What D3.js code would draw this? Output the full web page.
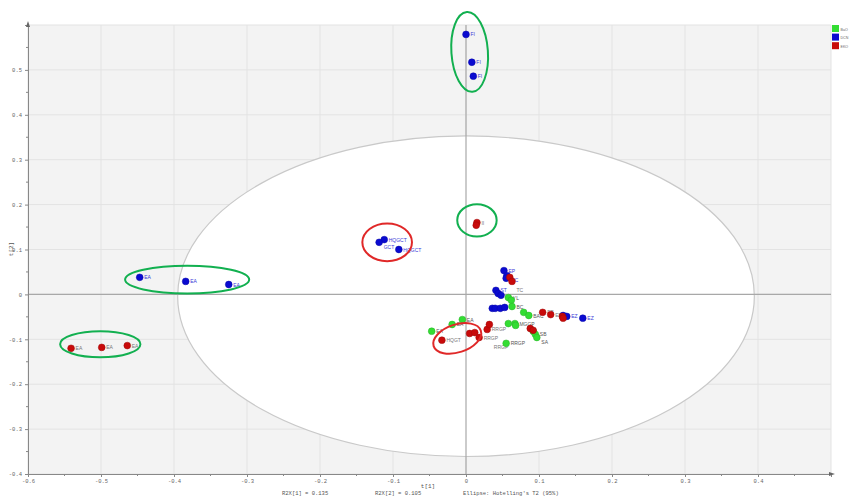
<!DOCTYPE html>
<html>
<head>
<meta charset="utf-8">
<script src="https://cdn.jsdelivr.net/npm/d3@7"></script>
<style>
  html, body { margin: 0; padding: 0; background: #ffffff; }
  svg { display: block; }
</style>
</head>
<body>
<svg id="chart" width="849" height="497"></svg>
<script>
// Score plot t[1] vs t[2]: three sample groups
const groups = ["BaO", "DCN", "EKO"];
const groupColors = ["#33dd33", "#0a0ad0", "#c80a0a"];

// Group DCN (blue)
const dcnT1 = [0.000, 0.008, 0.010, -0.112, -0.119, -0.092, -0.447, -0.384, -0.325,
  0.052, 0.056, 0.055, 0.041, 0.044, 0.048, 0.036, 0.040, 0.047, 0.053, 0.133, 0.138, 0.160];
const dcnT2 = [0.579, 0.517, 0.486, 0.122, 0.116, 0.100, 0.038, 0.029, 0.022,
  0.053, 0.042, 0.036, 0.009, 0.002, -0.002, -0.031, -0.031, -0.031, -0.029, -0.047, -0.049, -0.053];
const dcnLabels = ["FI", "FI", "FI", "HQGCT", "GCT", "HQGCT", "EA", "EA", "EA",
  "EP", "EC", "", "ST", "", "", "", "", "", "", "", "EZ", "EZ"];

// Group EKO (red)
const ekoT1 = [-0.541, -0.499, -0.464, 0.015, 0.014, -0.033, 0.005, 0.012, 0.018, 0.029, 0.032,
  0.060, 0.063, 0.088, 0.092, 0.105, 0.116, 0.132, 0.133];
const ekoT2 = [-0.120, -0.118, -0.114, 0.160, 0.154, -0.102, -0.087, -0.085, -0.096, -0.078, -0.067,
  0.038, 0.029, -0.076, -0.080, -0.040, -0.045, -0.049, -0.053];
const ekoLabels = ["EA", "EA", "EA", "II", "", "HQGT", "", "", "RRGP", "RRGP", "RRGP",
  "", "TC", "", "", "EB", "EB", "", ""];

// Group BaO (green)
const baoT1 = [-0.047, -0.019, -0.005, 0.058, 0.062, 0.063, 0.079, 0.086, 0.058, 0.067, 0.068,
  0.092, 0.095, 0.097, 0.055];
const baoT2 = [-0.082, -0.067, -0.056, -0.007, -0.013, -0.027, -0.040, -0.047, -0.065, -0.065, -0.069,
  -0.082, -0.089, -0.096, -0.109];
const baoLabels = ["EA", "EA", "EA", "YL", "", "BC", "", "BAC", "", "MGGP", "", "", "SB", "SA", "RRGP"];

// Axis ticks
const xTicks = [-0.6, -0.5, -0.4, -0.3, -0.2, -0.1, 0, 0.1, 0.2, 0.3, 0.4];
const yTicks = [-0.4, -0.3, -0.2, -0.1, 0, 0.1, 0.2, 0.3, 0.4, 0.5];
const xTickLabels = ["-0.6", "-0.5", "-0.4", "-0.3", "-0.2", "-0.1", "0", "0.1", "0.2", "0.3", "0.4"];
const yTickLabels = ["-0.4", "-0.3", "-0.2", "-0.1", "0", "0.1", "0.2", "0.3", "0.4", "0.5"];

// Hotelling's T2 (95%) ellipse: centre and semi-axes
const hotellingCentre = [0, -0.004];
const hotellingRadii = [0.395, 0.357];

// Highlight rings: centre t1, centre t2, radius t1, radius t2, rotation
const ringCx = [0.005, 0.015, -0.108, -0.382, -0.501, -0.012];
const ringCy = [0.540, 0.165, 0.116, 0.033, -0.111, -0.098];
const ringRx = [0.025, 0.027, 0.034, 0.085, 0.055, 0.034];
const ringRy = [0.089, 0.036, 0.042, 0.031, 0.029, 0.031];
const ringRot = [-4, 0, 0, 0, 0, -18];
const ringKind = ["green", "green", "red", "green", "green", "red"];

const footerTexts = ["R2X[1] = 0.135", "R2X[2] = 0.105", "Ellipse: Hotelling's T2 (95%)"];

const svg = d3.select("#chart");
const x = d3.scaleLinear().domain([-0.6, 0.5]).range([28, 831]);
const y = d3.scaleLinear().domain([-0.4, 0.6]).range([474, 25]);

// plot background
svg.append("rect")
  .attr("x", x(-0.6)).attr("y", y(0.6))
  .attr("width", x(0.5) - x(-0.6)).attr("height", y(-0.4) - y(0.6))
  .attr("fill", "#f3f3f3");

// grid
const grid = svg.append("g").attr("stroke", "#e3e3e3").attr("stroke-width", 1);
xTicks.concat([0.5]).forEach(v => {
  grid.append("line").attr("x1", x(v)).attr("x2", x(v)).attr("y1", y(0.6)).attr("y2", y(-0.4));
});
yTicks.concat([0.6]).forEach(v => {
  grid.append("line").attr("x1", x(-0.6)).attr("x2", x(0.5)).attr("y1", y(v)).attr("y2", y(v));
});

// Hotelling ellipse
svg.append("ellipse")
  .attr("cx", x(hotellingCentre[0])).attr("cy", y(hotellingCentre[1]))
  .attr("rx", x(hotellingRadii[0]) - x(0))
  .attr("ry", y(0) - y(hotellingRadii[1]))
  .attr("fill", "#ffffff").attr("stroke", "#c9c9c9").attr("stroke-width", 1.2);

// zero lines
svg.append("line").attr("x1", x(0)).attr("x2", x(0)).attr("y1", y(0.6)).attr("y2", y(-0.4))
  .attr("stroke", "#a8a8a8").attr("stroke-width", 1.2);
svg.append("line").attr("x1", x(-0.6)).attr("x2", x(0.5)).attr("y1", y(0)).attr("y2", y(0))
  .attr("stroke", "#a8a8a8").attr("stroke-width", 1.2);

// axes
const xAxis = d3.axisBottom(x).tickValues(xTicks).tickSize(3)
  .tickFormat((d, i) => xTickLabels[i]);
const gx = svg.append("g").attr("transform", `translate(0,${y(-0.4)})`).call(xAxis);
const yAxis = d3.axisLeft(y).tickValues(yTicks).tickSize(3)
  .tickFormat((d, i) => yTickLabels[i]);
const gy = svg.append("g").attr("transform", `translate(${x(-0.6)},0)`).call(yAxis);
[gx, gy].forEach(g => {
  g.select(".domain").attr("stroke", "#888").attr("stroke-width", 1);
  g.selectAll(".tick line").attr("stroke", "#888");
  g.selectAll(".tick text").attr("fill", "#666").attr("font-size", 5.5)
    .attr("font-family", "Liberation Mono, DejaVu Sans Mono, monospace");
});
gx.selectAll(".tick text").attr("dy", "0.6em");

// minor ticks
const minorX = d3.range(-0.55, 0.5, 0.1);
const minorY = d3.range(-0.35, 0.6, 0.1);
minorX.forEach(v => svg.append("line").attr("x1", x(v)).attr("x2", x(v))
  .attr("y1", y(-0.4)).attr("y2", y(-0.4) + 2).attr("stroke", "#888"));
minorY.forEach(v => svg.append("line").attr("x1", x(-0.6) - 2).attr("x2", x(-0.6))
  .attr("y1", y(v)).attr("y2", y(v)).attr("stroke", "#888"));

// axis arrows
svg.append("path")
  .attr("d", `M${x(-0.6)},${y(0.6) - 4} l-2,6 l4,0 z`).attr("fill", "#666");
svg.append("path")
  .attr("d", `M${x(0.5) + 4},${y(-0.4)} l-6,-2 l0,4 z`).attr("fill", "#666");

// axis titles
svg.append("text").attr("x", 428).attr("y", 488).attr("text-anchor", "middle")
  .attr("font-size", 6).attr("fill", "#555").attr("font-family", "Liberation Mono, monospace")
  .text("t[1]");
svg.append("text").attr("transform", "translate(13,249) rotate(-90)").attr("text-anchor", "middle")
  .attr("font-size", 6).attr("fill", "#555").attr("font-family", "Liberation Mono, monospace")
  .text("t[2]");

// footer
const footerX = [282, 375, 463];
footerTexts.forEach((t, i) => {
  svg.append("text").attr("x", footerX[i]).attr("y", 495)
    .attr("font-size", 5.5).attr("fill", "#555")
    .attr("font-family", "Liberation Mono, DejaVu Sans Mono, monospace")
    .text(t);
});

// score points
const series = [
  { t1: dcnT1, t2: dcnT2, labels: dcnLabels, g: 1 },
  { t1: baoT1, t2: baoT2, labels: baoLabels, g: 0 },
  { t1: ekoT1, t2: ekoT2, labels: ekoLabels, g: 2 }
];
const labelColor = ["#555555", "#3a3ad8", "#777777"];
const labelLayer = svg.append("g");
const pointLayer = svg.append("g");
const placed = [];
series.forEach(s => {
  const pts = s.t1.map((v, i) => ({ t1: v, t2: s.t2[i], label: s.labels[i] }));
  pts.forEach(d => {
    if (!d.label) return;
    const t = labelLayer.append("text")
      .attr("x", x(d.t1) + 4.5).attr("y", y(d.t2) + 2)
      .attr("font-size", 5).attr("fill", labelColor[s.g])
      .attr("font-family", "Liberation Sans, Arial, sans-serif")
      .text(d.label);
    // nudge the label down while it collides with one already placed
    let b = t.node().getBBox();
    let tries = 0;
    const hits = bb => placed.some(p => bb.x < p.x + p.width && p.x < bb.x + bb.width &&
      bb.y < p.y + p.height && p.y < bb.y + bb.height);
    while (hits(b) && tries < 6) {
      t.attr("y", +t.attr("y") + 4.5);
      b = t.node().getBBox();
      tries++;
    }
    placed.push(b);
  });
  pointLayer.append("g").selectAll("circle").data(pts).enter().append("circle")
    .attr("cx", d => x(d.t1)).attr("cy", d => y(d.t2)).attr("r", 3.4)
    .attr("fill", groupColors[s.g])
    .attr("stroke", d3.color(groupColors[s.g]).darker(0.6)).attr("stroke-width", 0.5);
});

// highlight rings
ringCx.forEach((cx, i) => {
  const px = x(cx), py = y(ringCy[i]);
  svg.append("ellipse")
    .attr("cx", 0).attr("cy", 0)
    .attr("rx", x(ringRx[i]) - x(0)).attr("ry", y(0) - y(ringRy[i]))
    .attr("transform", `translate(${px},${py}) rotate(${ringRot[i]})`)
    .attr("fill", "none")
    .attr("stroke", ringKind[i] === "green" ? "#12b050" : "#e02828")
    .attr("stroke-width", 2);
});

// legend
const legend = svg.append("g");
groups.forEach((name, i) => {
  legend.append("rect").attr("x", 832).attr("y", 25 + i * 8.6)
    .attr("width", 7).attr("height", 7).attr("fill", groupColors[i]);
  legend.append("text").attr("x", 840.5).attr("y", 30.5 + i * 8.6)
    .attr("font-size", 3.6).attr("fill", "#666")
    .attr("font-family", "Liberation Sans, Arial, sans-serif").text(name);
});
</script>
</body>
</html>
